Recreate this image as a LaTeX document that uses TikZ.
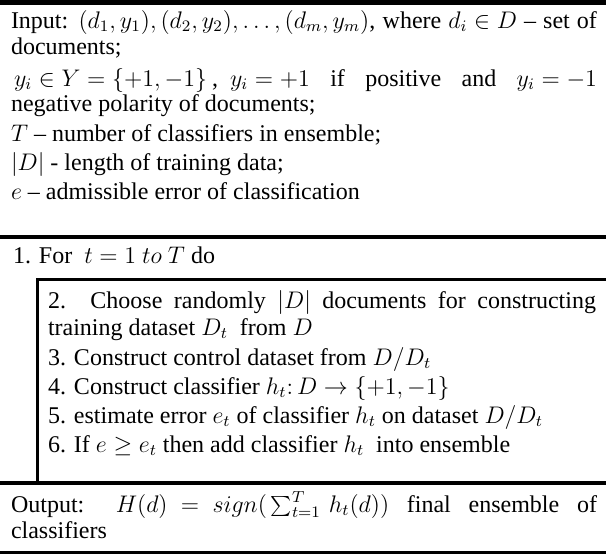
\documentclass[tikz,border=0pt]{standalone}
\usepackage{fontspec}
\setmainfont{Liberation Serif}
\begin{document}
\begin{tikzpicture}[x=0.5pt,y=-0.5pt,
  txt/.style={anchor=base west,inner sep=0pt,outer sep=0pt,font=\fontsize{12}{14}\selectfont},
  rulebar/.style={fill=black,draw=none}]
\useasboundingbox (0,0) rectangle (606,554);
% rules
\fill[rulebar] (0,0) rectangle (606,5);
\fill[rulebar] (0,235) rectangle (606,239);
\fill[rulebar] (36,278) rectangle (606,281);
\fill[rulebar] (36,278) rectangle (39,483);
\fill[rulebar] (0,481) rectangle (606,485);
\fill[rulebar] (0,551) rectangle (606,554);
% input block
\node[txt] (l1) at (11,28) {\makebox[293pt][s]{Input: \mbox{$(d_1,y_1),(d_2,y_2),\dots,(d_m,y_m)$}, where \mbox{$d_i\in D$} -- set of}};
\node[txt] (l2) at (11,54) {documents;};
\node[txt] (l3) at (14,86) {\makebox[291.5pt][s]{\mbox{$y_i\in Y=\{+1,-1\}$\hspace{2.5pt},\hspace{6pt}$y_i=+1$} if positive and \mbox{$y_i=-1$}}};
\node[txt] (l4) at (11,111) {negative polarity of documents;};
\node[txt] (l5) at (11,141) {$T$ -- number of classifiers in ensemble;};
\node[txt] (l6) at (11,170) {$|D|$ - length of training data;};
\node[txt] (l7) at (11,199) {$e$ -- admissible error of classification};
% loop
\node[txt] (l8) at (13,263) {1. For\ \ $t=1\ to\ T$ do};
\node[txt] (l9) at (48,308) {\makebox[274pt][s]{2. Choose randomly \mbox{$|D|$} documents for constructing}};
\node[txt] (l10) at (48,335) {training dataset $D_t$\ \ from $D$};
\node[txt] (l11) at (48,365) {3. Construct control dataset from $D/D_t$};
\node[txt] (l12) at (48,394) {4. Construct classifier $h_t{:}\,D\rightarrow\{+1,-1\}$};
\node[txt] (l13) at (48,423) {5. estimate error $e_t$ of classifier $h_t$ on dataset $D/D_t$};
\node[txt] (l14) at (48,452) {6. If $e\geq e_t$ then add classifier $h_t$\ \ into ensemble};
% output
\node[txt] (l15) at (11,512) {\makebox[293pt][s]{Output: \mbox{$H(d)\;=\;sign\big(\sum_{t=1}^{T}\,h_t(d)\big)$} final ensemble of}};
\node[txt] (l16) at (11,538) {classifiers};
\end{tikzpicture}
\end{document}
